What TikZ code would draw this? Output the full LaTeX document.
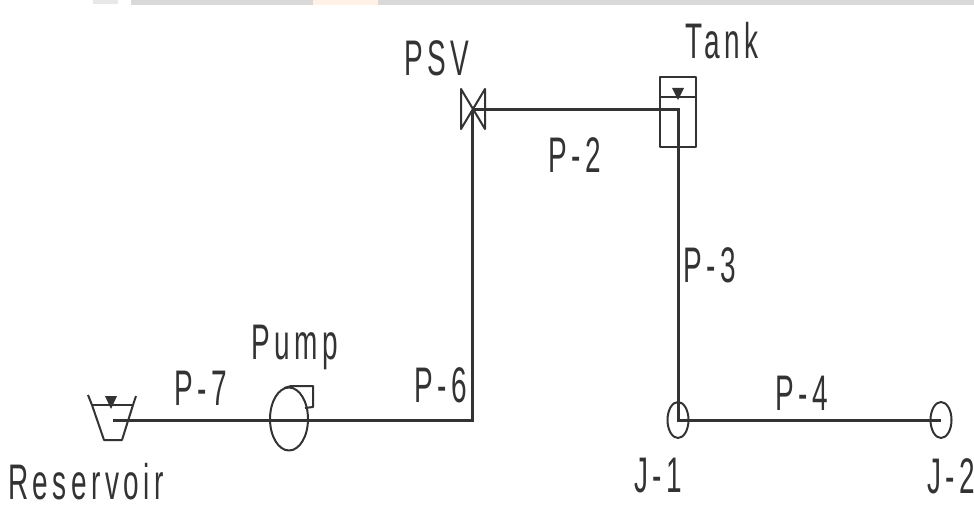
\documentclass[tikz,border=0pt]{standalone}
\usepackage{fontspec}
\setmainfont[FakeStretch=0.56,LetterSpace=9]{Liberation Sans}
\usetikzlibrary{shapes.geometric}
\definecolor{ink}{gray}{0.2}
\definecolor{band}{gray}{0.85}
\tikzset{
  lbl/.style={inner sep=0pt,text=ink,font=\fontsize{50}{50}\selectfont,anchor=center},
  pipe/.style={draw=ink,line width=3pt},
  sym/.style={draw=ink,line width=2pt,line join=round},
  junction/.style={sym,ellipse,minimum width=21pt,minimum height=36pt,inner sep=0pt},
}
\begin{document}
\begin{tikzpicture}[x=1pt,y=-1pt]
\useasboundingbox (0,0) rectangle (974,508);
\fill[band!60] (93,0) rectangle (118,4);
\fill[band] (131,0) rectangle (974,5);
\fill[red!8!orange!10] (313,0) rectangle (378,5);
% symbols
\node[sym,rectangle,minimum width=36pt,minimum height=70pt,inner sep=0pt] (tank) at (678,112) {};
\node[junction] (j1) at (678,420) {};
\node[junction] (j2) at (941,420) {};
\node[sym,ellipse,minimum width=38pt,minimum height=63pt,inner sep=0pt] (pump) at (289,419) {};
\coordinate (psv) at (472,110);
\coordinate (tankin) at (678,110);
\coordinate (res) at (113,420);
\coordinate (corner) at (472,420);
\coordinate (j1c) at (j1.center);
\coordinate (j2c) at (j2.center);
% pipes
\draw[pipe] (res) -- (corner) -- (psv);
\draw[pipe] (psv) -- (tankin) -- (j1c) -- (j2c);
% PSV bow-tie
\draw[sym] (461,89) -- (485,129) -- (485,89) -- (461,129) -- cycle;
% tank water level
\draw[sym] (tank.west |- 0,97) -- (tank.east |- 0,97);
\fill[ink] (672,88) -- (684,88) -- (678,100) -- cycle;
% reservoir
\draw[sym] (88,395) -- (92,405) -- (104,440) -- (122,440) -- (133,405) -- (136,396);
\draw[sym] (92,405) -- (133,405);
\fill[ink] (105,396) -- (117,396) -- (111,409) -- cycle;
% pump discharge
\draw[sym] (284,388) -- (291,386) -- (313,386) -- (313,407) -- (305,408);
% labels
\node[lbl] (lpsv) at (437,58) {PSV};
\node[lbl] (ltank) at (722,41) {Tank};
\node[lbl] (lp2) at (575,155) {P-2};
\node[lbl] (lp3) at (710,265) {P-3};
\node[lbl] (lp4) at (802,393) {P-4};
\node[lbl] (lp7) at (201,388) {P-7};
\node[lbl] (lp6) at (441,385) {P-6};
\node[lbl] (lpump) at (295,347) {Pump};
\node[lbl] (lres) at (86,482) {Reservoir};
\node[lbl] (lj1) at (658,476) {J-1};
\node[lbl] (lj2) at (951,476) {J-2};
\end{tikzpicture}
\end{document}
